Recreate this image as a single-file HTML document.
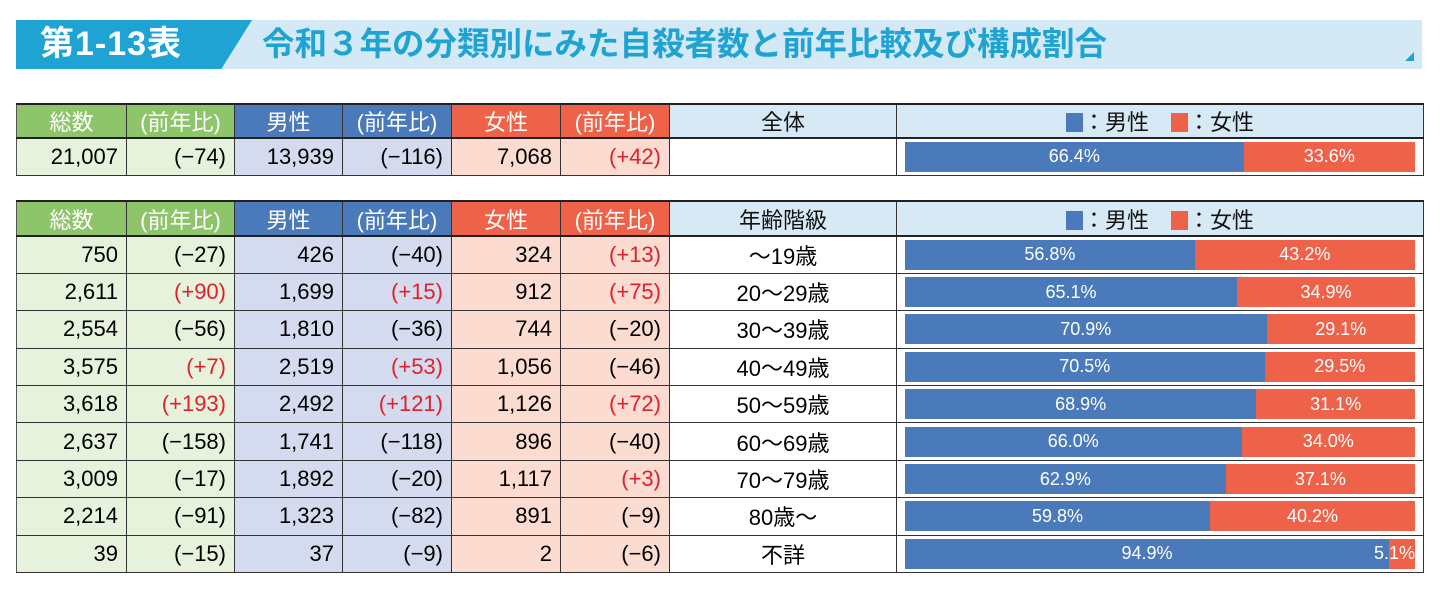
<!DOCTYPE html>
<html><head><meta charset="utf-8"><style>
body{margin:0;width:1442px;height:589px;background:#fff;position:relative;overflow:hidden;font-family:"Liberation Sans","Noto Sans CJK JP",sans-serif}
.tb{position:absolute;left:16px;top:20px;width:1406px;height:49px;background:#d3eaf6}
.td{position:absolute;left:16px;top:20px;width:236px;height:49px;background:#1fa3d3;clip-path:polygon(0 0,100% 0,87% 100%,0 100%)}
.t1{position:absolute;left:40px;top:22px;font-size:34px;font-weight:bold;color:#fff;line-height:44px;letter-spacing:1px}
.t2{position:absolute;left:262px;top:22px;font-size:32.5px;font-weight:bold;color:#1fa3d3;line-height:44px}
.tri{position:absolute;left:1405px;top:52px;width:0;height:0;border-left:9px solid transparent;border-bottom:9px solid #1fa3d3}
table{position:absolute;left:16px;border-collapse:collapse;table-layout:fixed;width:1407px}
td{border:1px solid #333;border-left:1px solid #555;padding:0 8px;font-size:22px;text-align:right;white-space:nowrap;overflow:hidden}
tr.h td{color:#fff;text-align:center;border-top:2px solid #222;border-bottom:2px solid #222}
.g{background:#8ec46a}.b{background:#4a7aba}.o{background:#ee624a}.lh{background:#d6e9f5;color:#111!important}
.lg{background:#e6f2dc}.lb{background:#d5dbee}.lo{background:#fcdcd0}
.r{color:#e0202a}
td.c{text-align:center}
td.bar{padding:0 8px}
.bw{display:flex;height:30px;font-size:18px;color:#fff}
.bw div{display:flex;align-items:center;justify-content:center}
.m{background:#4a7aba}.f{background:#ee624a}
.sq{display:inline-block;width:17px;height:19px;vertical-align:-2px}
</style></head><body>
<div class="tb"></div><div class="td"></div><div class="tri"></div>
<div class="t1">第1-13表</div>
<div class="t2">令和３年の分類別にみた自殺者数と前年比較及び構成割合</div>

<table style="top:103px">
<colgroup><col style="width:110px"><col style="width:108px"><col style="width:108px"><col style="width:109px"><col style="width:109px"><col style="width:109px"><col style="width:227px"><col style="width:527px"></colgroup>
<tr class="h" style="height:34px"><td class="g">総数</td><td class="g">(前年比)</td><td class="b">男性</td><td class="b">(前年比)</td><td class="o">女性</td><td class="o">(前年比)</td><td class="lh">全体</td><td class="lh"><span class="sq m"></span>：男性　<span class="sq f"></span>：女性</td></tr>
<tr style="height:37px"><td class="lg">21,007</td><td class="lg">(−74)</td><td class="lb">13,939</td><td class="lb">(−116)</td><td class="lo">7,068</td><td class="lo r">(+42)</td><td class="c"></td><td class="bar"><div class="bw"><div class="m" style="width:66.4%">66.4%</div><div class="f" style="width:33.6%">33.6%</div></div></td></tr>
</table>

<table style="top:200px">
<colgroup><col style="width:110px"><col style="width:108px"><col style="width:108px"><col style="width:109px"><col style="width:109px"><col style="width:109px"><col style="width:227px"><col style="width:527px"></colgroup>
<tr class="h" style="height:35px"><td class="g">総数</td><td class="g">(前年比)</td><td class="b">男性</td><td class="b">(前年比)</td><td class="o">女性</td><td class="o">(前年比)</td><td class="lh">年齢階級</td><td class="lh"><span class="sq m"></span>：男性　<span class="sq f"></span>：女性</td></tr>
<tr style="height:37.4px"><td class="lg">750</td><td class="lg">(−27)</td><td class="lb">426</td><td class="lb">(−40)</td><td class="lo">324</td><td class="lo r">(+13)</td><td class="c">〜19歳</td><td class="bar"><div class="bw"><div class="m" style="width:56.8%">56.8%</div><div class="f" style="width:43.2%">43.2%</div></div></td></tr>
<tr style="height:37.4px"><td class="lg">2,611</td><td class="lg r">(+90)</td><td class="lb">1,699</td><td class="lb r">(+15)</td><td class="lo">912</td><td class="lo r">(+75)</td><td class="c">20〜29歳</td><td class="bar"><div class="bw"><div class="m" style="width:65.1%">65.1%</div><div class="f" style="width:34.9%">34.9%</div></div></td></tr>
<tr style="height:37.4px"><td class="lg">2,554</td><td class="lg">(−56)</td><td class="lb">1,810</td><td class="lb">(−36)</td><td class="lo">744</td><td class="lo">(−20)</td><td class="c">30〜39歳</td><td class="bar"><div class="bw"><div class="m" style="width:70.9%">70.9%</div><div class="f" style="width:29.1%">29.1%</div></div></td></tr>
<tr style="height:37.4px"><td class="lg">3,575</td><td class="lg r">(+7)</td><td class="lb">2,519</td><td class="lb r">(+53)</td><td class="lo">1,056</td><td class="lo">(−46)</td><td class="c">40〜49歳</td><td class="bar"><div class="bw"><div class="m" style="width:70.5%">70.5%</div><div class="f" style="width:29.5%">29.5%</div></div></td></tr>
<tr style="height:37.4px"><td class="lg">3,618</td><td class="lg r">(+193)</td><td class="lb">2,492</td><td class="lb r">(+121)</td><td class="lo">1,126</td><td class="lo r">(+72)</td><td class="c">50〜59歳</td><td class="bar"><div class="bw"><div class="m" style="width:68.9%">68.9%</div><div class="f" style="width:31.1%">31.1%</div></div></td></tr>
<tr style="height:37.4px"><td class="lg">2,637</td><td class="lg">(−158)</td><td class="lb">1,741</td><td class="lb">(−118)</td><td class="lo">896</td><td class="lo">(−40)</td><td class="c">60〜69歳</td><td class="bar"><div class="bw"><div class="m" style="width:66.0%">66.0%</div><div class="f" style="width:34.0%">34.0%</div></div></td></tr>
<tr style="height:37.4px"><td class="lg">3,009</td><td class="lg">(−17)</td><td class="lb">1,892</td><td class="lb">(−20)</td><td class="lo">1,117</td><td class="lo r">(+3)</td><td class="c">70〜79歳</td><td class="bar"><div class="bw"><div class="m" style="width:62.9%">62.9%</div><div class="f" style="width:37.1%">37.1%</div></div></td></tr>
<tr style="height:37.4px"><td class="lg">2,214</td><td class="lg">(−91)</td><td class="lb">1,323</td><td class="lb">(−82)</td><td class="lo">891</td><td class="lo">(−9)</td><td class="c">80歳〜</td><td class="bar"><div class="bw"><div class="m" style="width:59.8%">59.8%</div><div class="f" style="width:40.2%">40.2%</div></div></td></tr>
<tr style="height:37.4px"><td class="lg">39</td><td class="lg">(−15)</td><td class="lb">37</td><td class="lb">(−9)</td><td class="lo">2</td><td class="lo">(−6)</td><td class="c">不詳</td><td class="bar"><div class="bw"><div class="m" style="width:94.9%">94.9%</div><div class="f" style="width:5.1%;justify-content:flex-end;overflow:visible;position:relative"><span style="position:absolute;right:0">5.1%</span></div></div></td></tr>
</table>
</body></html>
